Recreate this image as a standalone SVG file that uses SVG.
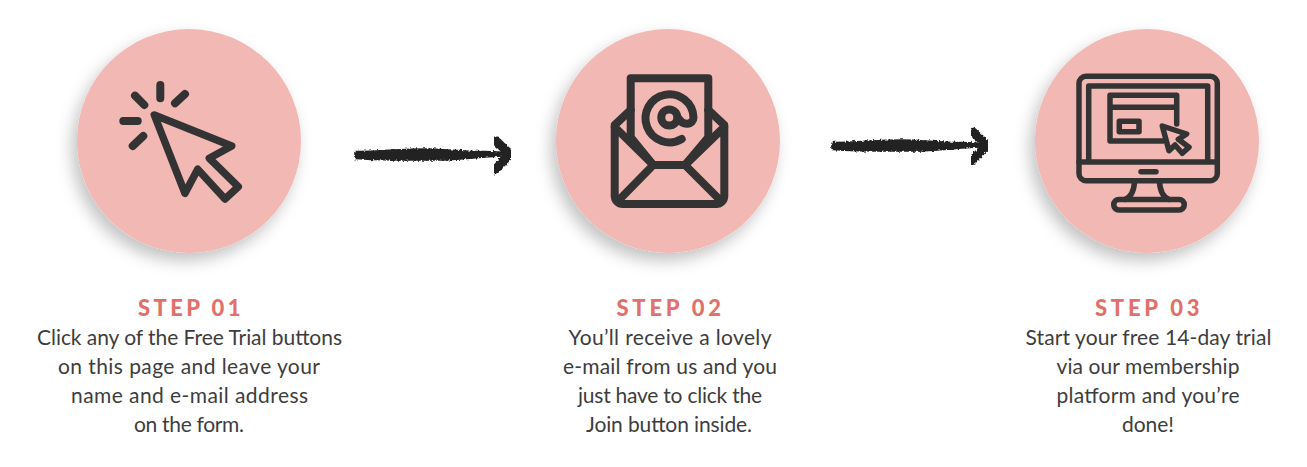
<svg xmlns="http://www.w3.org/2000/svg" width="1307" height="467" viewBox="0 0 1307 467">
<style>
.c{fill:#f2b8b4;filter:url(#sh)}
.i{fill:none;stroke:#333;stroke-width:8;stroke-linecap:round;stroke-linejoin:round}
.n{stroke-width:7.500}
.m{stroke-width:5.500}
.h{font:900 22px Lato,"Liberation Sans",sans-serif;fill:#e2706a;text-anchor:middle;letter-spacing:2.500px}
.t{font:400 21px Lato,"Liberation Sans",sans-serif;fill:#3d3d3d;text-anchor:middle}
.a{fill:#222;stroke:#222;stroke-width:1.500;stroke-linejoin:round;filter:url(#rough)}
.b{fill:none;stroke:#222;stroke-width:9;stroke-linecap:round;stroke-linejoin:round;filter:url(#rough)}
</style>
<defs>
<filter id="sh" x="-25%" y="-25%" width="150%" height="150%"><feDropShadow dx="-5" dy="8" stdDeviation="8" flood-color="#000" flood-opacity=".24"/></filter>
<filter id="rough" x="-5%" y="-40%" width="110%" height="180%"><feTurbulence type="fractalNoise" baseFrequency=".45" numOctaves="2" seed="7"/><feDisplacementMap in="SourceGraphic" scale="4" xChannelSelector="R" yChannelSelector="G"/></filter>
</defs>
<rect width="1307" height="467" fill="#fff"/>
<g id="connectors">
<g id="arrow1"><path class="a" d="M355 151.500C375 152 400 149 425 149C445 149 465 152 485 151.500L510 152.500V155.500L485 157C465 159 445 160.500 425 160C400 160 375 160 355 158.500Z"/><path class="b" d="M496 141L510 154L495 170"/></g>
<g id="arrow2"><path class="a" d="M832 142.500C852 143 877 140 902 140C922 140 942 143 962 142.500L987 143.500V146.500L962 148C942 150 922 151.500 902 151C877 151 852 151 832 149.500Z"/><path class="b" d="M973 132L987 145L972 160.500"/></g>
</g>
<g id="step1">
<circle class="c" cx="189" cy="141" r="112"/>
<g class="i"><path class="n" d="M154.300 115L231.700 146L209.300 158.300L238.300 186.700L225 199L197.700 169.300L185 193.300Z"/><path d="M160.300 85V98.300M135 95.700L144.300 105M185 94L175 103.300M123.300 121H137.700M143.300 136L132.700 146"/></g>
<text class="h" x="190.500" y="316" textLength="105">STEP 01</text>
<text class="t" x="189.500" y="345" textLength="305">Click any of the Free Trial buttons</text>
<text class="t" x="189" y="374" textLength="262">on this page and leave your</text>
<text class="t" x="189.500" y="403" textLength="237">name and e-mail address</text>
<text class="t" x="189" y="432" textLength="110">on the form.</text>
</g>
<g id="step2">
<circle class="c" cx="668" cy="141" r="112"/>
<g class="i"><path d="M630.700 137.300V78.300H708.300V137.300L685 165H653.300L630.700 137.300"/><path d="M630.700 110L614.700 125V196A8 8 0 0 0 622.700 204H716.300A8 8 0 0 0 724.300 196V125L708.300 110M614.700 127L653.300 165L619 200M724.300 127L685 165L720 200"/><path d="M681.700 139A24 24 0 1 1 693.500 117.500C693.500 125 683 126 679 119"/><circle cx="669.300" cy="117.500" r="8"/></g>
<text class="h" x="670" y="316" textLength="107">STEP 02</text>
<text class="t" x="670" y="345" textLength="203">You’ll receive a lovely</text>
<text class="t" x="670" y="374" textLength="214">e-mail from us and you</text>
<text class="t" x="670" y="403" textLength="184">just have to click the</text>
<text class="t" x="669" y="432" textLength="166">Join button inside.</text>
</g>
<g id="step3">
<circle class="c" cx="1147" cy="141" r="112"/>
<g class="i m"><rect x="1079" y="76.300" width="138.300" height="104.400" rx="7"/><path d="M1079 162H1217.300M1088.700 162V86H1207.700V162"/><path d="M1176.700 124V95.300H1110V141H1163M1110 107.300H1176.700"/><rect x="1119.300" y="121.300" width="19.700" height="10.400"/><path d="M1162.300 126L1186.700 134L1178.300 139.300L1189 147.300L1182.300 153.300L1175 145L1169 150.700Z"/><path d="M1141 171.700H1156"/><path d="M1134.500 182C1134 190 1131 197 1125 199.500M1159.500 182C1160 190 1163 197 1169 199.500"/><rect x="1113.700" y="199.500" width="70.600" height="10.500" rx="5.200"/></g>
<text class="h" x="1148.500" y="316" textLength="107">STEP 03</text>
<text class="t" x="1148.500" y="345" textLength="246">Start your free 14-day trial</text>
<text class="t" x="1148" y="374" textLength="183">via our membership</text>
<text class="t" x="1148" y="403" textLength="183">platform and you’re</text>
<text class="t" x="1148" y="432" textLength="52">done!</text>
</g>
</svg>
